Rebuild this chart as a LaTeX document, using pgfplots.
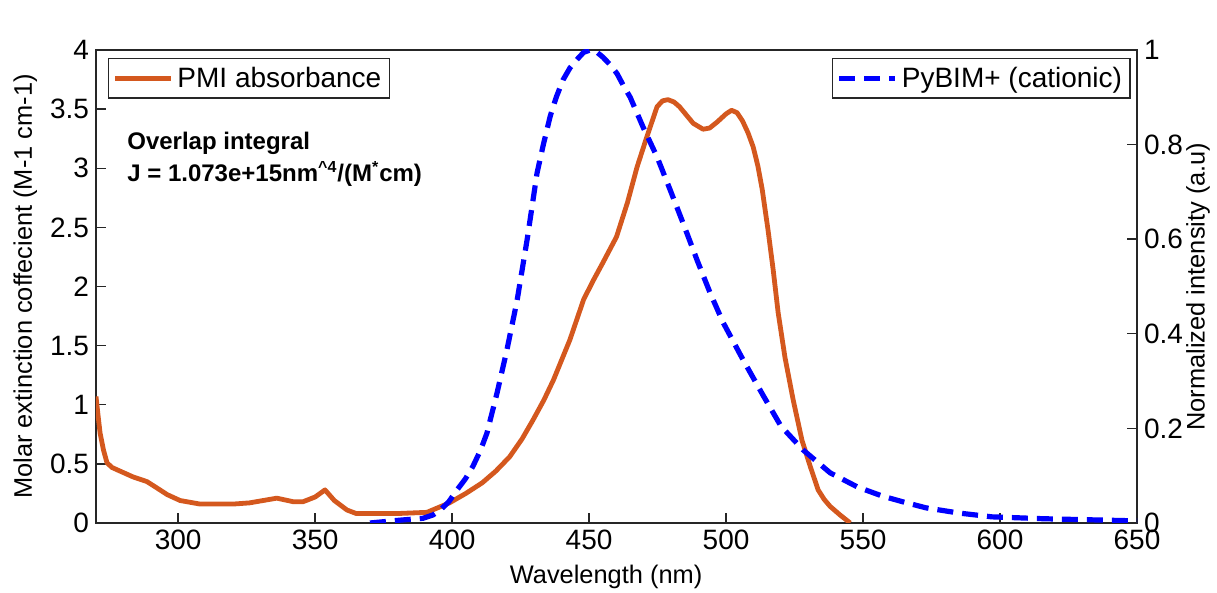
\documentclass[border=0pt]{standalone}
\usepackage{pgfplots}
\pgfplotsset{compat=1.18}
\usepackage{fontspec}
\setmainfont{Liberation Sans}
\definecolor{pmiorange}{RGB}{212,88,30}
\definecolor{pyblue}{RGB}{0,0,255}
\begin{document}
\begin{tikzpicture}
\useasboundingbox (-48pt,-35pt) rectangle (560.5pt,261.5pt);
\pgfplotsset{
 base/.style={
  at={(0,0)}, anchor=south west, scale only axis, width=520.5pt, height=236.5pt,
  xmin=270, xmax=650,
  tick align=inside, major tick length=5pt,
  /pgf/number format/assume math mode=true,
  tick label style={font=\fontsize{14}{16}\selectfont},
  label style={font=\fontsize{12.7}{15}\selectfont},
  axis line style={line width=0.7pt, black!85},
  tick style={line width=0.7pt, black!85},
  legend cell align=left,
  legend image code/.code={\draw[##1] (0pt,0pt) -- (28pt,0pt);},
 }
}
\begin{axis}[base,
 ymin=0, ymax=4, ytick={0,0.5,1,1.5,2,2.5,3,3.5,4},
 xtick={300,350,400,450,500,550,600,650},
 xtick pos=left, ytick pos=left,
 xlabel={Wavelength (nm)},
 ylabel={Molar extinction coffecient (M-1 cm-1)},
 xlabel style={at={(axis description cs:0.49,-0.114)}, anchor=center},
 ylabel style={at={(axis description cs:-0.068,0.5)}, anchor=center},
 legend style={at={(0.0115,0.983)}, anchor=north west, draw=black!85, line width=0.7pt,
   font=\fontsize{14}{16}\selectfont, inner xsep=2pt, inner ysep=2pt},
]
\addplot[pmiorange, line width=2.4pt, line join=round] coordinates {
(270,1.07) (270.8,0.90) (271.5,0.76) (272.7,0.62) (274,0.51) (275.8,0.47) (277.7,0.45) (283.5,0.39) (288.6,0.35)
(292,0.30) (296,0.24) (300.7,0.19) (308,0.16) (320,0.16) (326,0.17)
(336,0.21) (342,0.18) (345.6,0.18) (350,0.22) (353.6,0.28) (357,0.19)
(361.6,0.11) (365,0.08) (370,0.08) (380,0.08) (390.8,0.09) (399,0.17)
(405,0.25) (411,0.34) (416,0.44) (421,0.56) (425.5,0.71) (429.5,0.87) (433.5,1.04) (437,1.21) (440,1.38) (443,1.55) (445.5,1.72) (448,1.89)
(451.5,2.05) (455,2.20) (460,2.42) (464,2.71) (467.5,3.01) (471,3.26) (474.8,3.52)
(476.8,3.57) (478.8,3.58) (481,3.56) (483,3.52) (488,3.38) (491.6,3.33) (494,3.34) (496.7,3.39) (500,3.46) (502,3.49)
(504,3.47) (506,3.40) (508,3.30) (509.9,3.18) (511.6,3.02) (513.2,2.82) (515.3,2.48) (517.2,2.14) (519,1.78)
(521.5,1.40) (524.5,1.04) (527.7,0.70) (530.7,0.48) (533.6,0.28) (535.8,0.20) (538,0.14) (541.5,0.07)
(545.3,0.0)
};
\addlegendentry{PMI absorbance}
\node[anchor=north west, align=left, font=\bfseries\fontsize{12}{16}\selectfont, inner sep=0pt]
  at (axis cs:281.3,3.31) {Overlap integral\\J = 1.073e+15nm\textsuperscript{\textasciicircum4}/(M\textsuperscript{*}cm)};
\node[anchor=base west, inner sep=0pt, font=\fontsize{14}{16}\selectfont, yshift=5pt]
  at (rel axis cs:0.002,1) {x 10\textsuperscript{4}};
\end{axis}
\begin{axis}[base,
 axis x line=none, axis y line*=right,
 ymin=0, ymax=1, ytick={0,0.2,0.4,0.6,0.8,1},
 ylabel={Normalized intensity (a.u)},
 ylabel style={at={(axis description cs:1.0586,0.5)}, anchor=center},
 legend style={at={(0.994,0.983)}, anchor=north east, draw=black!85, line width=0.7pt,
   font=\fontsize{14}{16}\selectfont, inner xsep=2pt, inner ysep=2pt},
]
\addplot[pyblue, line width=2.6pt, line join=round, dash pattern=on 8pt off 4.5pt] coordinates {
(370,0) (381,0.006) (389.4,0.01) (393,0.017) (395.6,0.027) (398.8,0.045) (401.8,0.07) (404.8,0.093) (407.6,0.12)
(410.3,0.153) (412.7,0.19) (416.4,0.275) (420,0.366) (423.7,0.47) (427.4,0.60) (429.2,0.67) (431,0.74)
(433.3,0.80) (435.8,0.86) (438,0.90) (440.5,0.937) (443,0.962) (445.6,0.98) (448,0.995) (450.4,1.0)
(452.5,0.997) (455,0.985) (457.5,0.97) (460.2,0.95) (462.5,0.925)
(465,0.90) (469.7,0.837) (474.8,0.774) (479.6,0.704) (484.3,0.634) (489.4,0.556)
(494.2,0.486) (499,0.423) (506.2,0.345) (513.5,0.27) (520,0.205) (528,0.155)
(538,0.106) (548,0.076) (557,0.057) (565,0.044) (573,0.032) (585,0.021)
(597,0.013) (616,0.009) (646,0.005) (650,0.005)
};
\addlegendentry{PyBIM+ (cationic)}
\end{axis}
\end{tikzpicture}
\end{document}
